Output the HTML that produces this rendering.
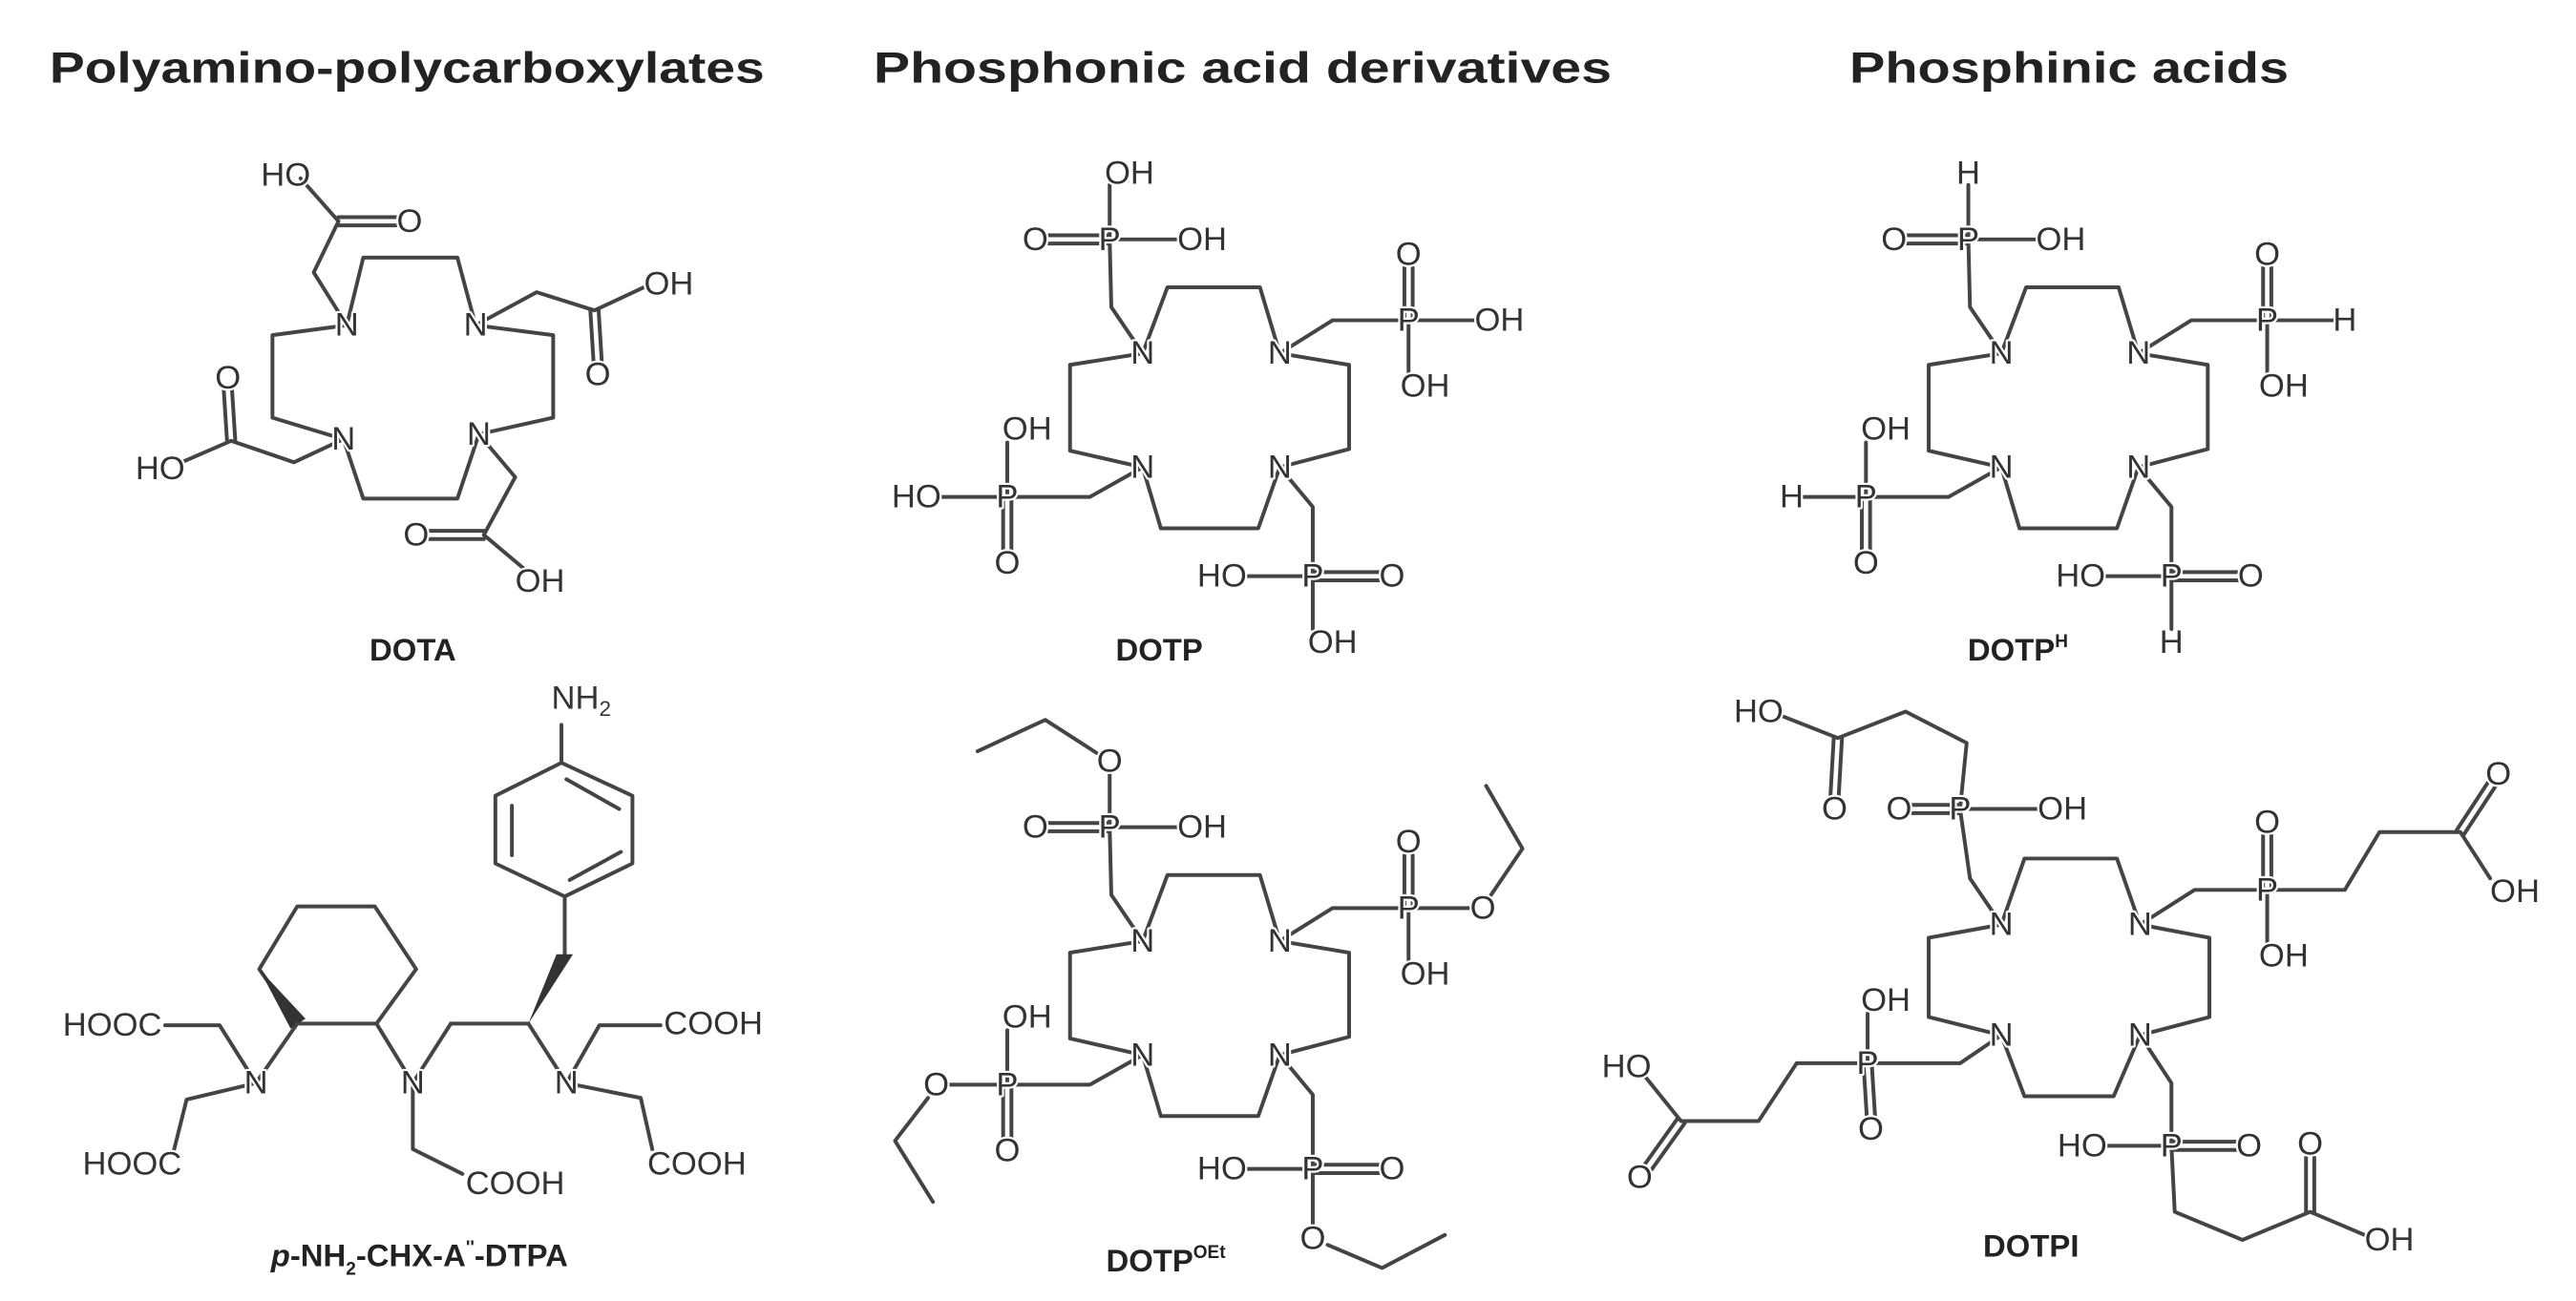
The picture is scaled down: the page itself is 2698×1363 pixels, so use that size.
<!DOCTYPE html>
<html><head><meta charset="utf-8"><style>
html,body{margin:0;padding:0;background:#fff;}
svg{display:block;}
text{font-family:"Liberation Sans",Arial,sans-serif;}
.a{font-size:20px;fill:#333;text-anchor:middle;dominant-baseline:central;stroke:#fff;stroke-width:2.5px;paint-order:stroke;stroke-linejoin:round;}
.l{font-size:19px;font-weight:bold;fill:#222;text-anchor:middle;}
.t{font-size:26px;font-weight:bold;fill:#222;}
path,line{fill:none;stroke:#444;stroke-width:2.3;stroke-linejoin:round;stroke-linecap:round;}
</style></head><body>
<svg width="2698" height="1363" viewBox="0 0 1560 788" preserveAspectRatio="none" xmlns="http://www.w3.org/2000/svg">
<rect width="1560" height="788" fill="#fff"/>
<!-- Titles -->
<text class="t" x="30" y="50" textLength="433" lengthAdjust="spacingAndGlyphs">Polyamino-polycarboxylates</text>
<text class="t" x="529" y="50" textLength="447" lengthAdjust="spacingAndGlyphs">Phosphonic acid derivatives</text>
<text class="t" x="1120" y="50" textLength="266" lengthAdjust="spacingAndGlyphs">Phosphinic acids</text>

<!-- DOTA -->
<g>
<path d="M210,197 L220,156 L277,156 L288,197 L335,203 L335,253 L290,263 L277,302 L220,302 L208,266 L165,253 L165,203 Z"/>
<path d="M210,197 L190,165 L205,134 L182,108"/>
<path d="M205,131.5 L240,131.5 M205,136.5 L240,136.5"/>
<path d="M288,197 L325,177 L360,188 L390,174"/>
<path d="M357.5,188 L359.5,220 M362.5,188 L364.5,220"/>
<path d="M208,266 L178,280 L140,267 L110,280"/>
<path d="M137.5,267 L135.5,236 M142.5,267 L140.5,236"/>
<path d="M290,263 L312,289 L293,324 L318,345"/>
<path d="M293,321.5 L260,321.5 M293,326.5 L260,326.5"/>
<text class="a" x="173" y="106">HO</text>
<text class="a" x="248" y="134">O</text>
<text class="a" x="405" y="172">OH</text>
<text class="a" x="362" y="227">O</text>
<text class="a" x="138" y="229">O</text>
<text class="a" x="97" y="284">HO</text>
<text class="a" x="252" y="324">O</text>
<text class="a" x="327" y="352">OH</text>
<text class="a" x="210" y="197">N</text>
<text class="a" x="288" y="197">N</text>
<text class="a" x="208" y="266">N</text>
<text class="a" x="290" y="263">N</text>
<text class="l" x="250" y="400">DOTA</text>
</g>

<!-- DOTP -->
<g>
<path d="M692,214 L707,174 L763,174 L775,214 L817,221 L817,272 L775,283 L762,320 L703,320 L692,283 L648,273 L648,221 Z"/>
<path d="M692,214 L673,186 L672,145 M672,145 L672,112 M672,145 L715,145"/>
<path d="M672,142.5 L635,142.5 M672,147.5 L635,147.5"/>
<path d="M775,214 L807,194 L853,194 L895,194 M853,194 L853,226"/>
<path d="M850.5,194 L850.5,162 M855.5,194 L855.5,162"/>
<path d="M692,283 L660,301 L610,301 L568,301 M610,301 L610,268"/>
<path d="M607.5,301 L607.5,333 M612.5,301 L612.5,333"/>
<path d="M775,283 L795,307 L795,349 L753,349 M795,349 L795,381"/>
<path d="M795,346.5 L835,346.5 M795,351.5 L835,351.5"/>
<text class="a" x="684" y="105">OH</text>
<text class="a" x="627" y="145">O</text>
<text class="a" x="672" y="145">P</text>
<text class="a" x="728" y="145">OH</text>
<text class="a" x="853" y="154">O</text>
<text class="a" x="853" y="194">P</text>
<text class="a" x="908" y="194">OH</text>
<text class="a" x="863" y="234">OH</text>
<text class="a" x="622" y="260">OH</text>
<text class="a" x="555" y="301">HO</text>
<text class="a" x="610" y="301">P</text>
<text class="a" x="610" y="341">O</text>
<text class="a" x="740" y="349">HO</text>
<text class="a" x="795" y="349">P</text>
<text class="a" x="843" y="349">O</text>
<text class="a" x="807" y="389">OH</text>
<text class="a" x="692" y="214">N</text>
<text class="a" x="775" y="214">N</text>
<text class="a" x="692" y="283">N</text>
<text class="a" x="775" y="283">N</text>
<text class="l" x="702" y="400">DOTP</text>
</g>

<!-- DOTP^H -->
<g transform="translate(520,0)">
<path d="M692,214 L707,174 L763,174 L775,214 L817,221 L817,272 L775,283 L762,320 L703,320 L692,283 L648,273 L648,221 Z"/>
<path d="M692,214 L673,186 L672,145 M672,145 L672,112 M672,145 L715,145"/>
<path d="M672,142.5 L635,142.5 M672,147.5 L635,147.5"/>
<path d="M775,214 L807,194 L853,194 L893,194 M853,194 L853,226"/>
<path d="M850.5,194 L850.5,162 M855.5,194 L855.5,162"/>
<path d="M692,283 L660,301 L610,301 L572,301 M610,301 L610,268"/>
<path d="M607.5,301 L607.5,333 M612.5,301 L612.5,333"/>
<path d="M775,283 L795,307 L795,349 L753,349 M795,349 L795,381"/>
<path d="M795,346.5 L835,346.5 M795,351.5 L835,351.5"/>
<text class="a" x="672" y="105">H</text>
<text class="a" x="627" y="145">O</text>
<text class="a" x="672" y="145">P</text>
<text class="a" x="728" y="145">OH</text>
<text class="a" x="853" y="154">O</text>
<text class="a" x="853" y="194">P</text>
<text class="a" x="900" y="194">H</text>
<text class="a" x="863" y="234">OH</text>
<text class="a" x="622" y="260">OH</text>
<text class="a" x="565" y="301">H</text>
<text class="a" x="610" y="301">P</text>
<text class="a" x="610" y="341">O</text>
<text class="a" x="740" y="349">HO</text>
<text class="a" x="795" y="349">P</text>
<text class="a" x="843" y="349">O</text>
<text class="a" x="795" y="389">H</text>
<text class="a" x="692" y="214">N</text>
<text class="a" x="775" y="214">N</text>
<text class="a" x="692" y="283">N</text>
<text class="a" x="775" y="283">N</text>
<text class="l" x="702" y="400">DOTP<tspan font-size="11" dy="-8">H</tspan></text>
</g>

<!-- DOTP^OEt -->
<g transform="translate(0,356)">
<path d="M692,214 L707,174 L763,174 L775,214 L817,221 L817,272 L775,283 L762,320 L703,320 L692,283 L648,273 L648,221 Z"/>
<path d="M692,214 L673,186 L672,145 M672,145 L672,112 M672,145 L715,145"/>
<path d="M672,142.5 L635,142.5 M672,147.5 L635,147.5"/>
<path d="M664,100 L633,80 L592,99"/>
<path d="M775,214 L807,194 L853,194 L890,194 M853,194 L853,226"/>
<path d="M850.5,194 L850.5,162 M855.5,194 L855.5,162"/>
<path d="M903,186 L922,158 L900,120"/>
<path d="M692,283 L660,301 L610,301 L575,301 M610,301 L610,268"/>
<path d="M607.5,301 L607.5,333 M612.5,301 L612.5,333"/>
<path d="M562,309 L542,335 L565,372"/>
<path d="M775,283 L795,307 L795,352 L753,352 M795,352 L795,386"/>
<path d="M795,349.5 L835,349.5 M795,354.5 L835,354.5"/>
<path d="M804,398 L837,412 L875,392"/>
<text class="a" x="672" y="105">O</text>
<text class="a" x="627" y="145">O</text>
<text class="a" x="672" y="145">P</text>
<text class="a" x="728" y="145">OH</text>
<text class="a" x="853" y="154">O</text>
<text class="a" x="853" y="194">P</text>
<text class="a" x="898" y="194">O</text>
<text class="a" x="863" y="234">OH</text>
<text class="a" x="622" y="260">OH</text>
<text class="a" x="567" y="301">O</text>
<text class="a" x="610" y="301">P</text>
<text class="a" x="610" y="341">O</text>
<text class="a" x="740" y="352">HO</text>
<text class="a" x="795" y="352">P</text>
<text class="a" x="843" y="352">O</text>
<text class="a" x="795" y="394">O</text>
<text class="a" x="692" y="214">N</text>
<text class="a" x="775" y="214">N</text>
<text class="a" x="692" y="283">N</text>
<text class="a" x="775" y="283">N</text>
<text class="l" x="706" y="414">DOTP<tspan font-size="11" dy="-8">OEt</tspan></text>
</g>

<!-- DOTPI -->
<g>
<path d="M1212,560 L1226,520 L1282,520 L1296,560 L1338,568 L1338,616 L1296,627 L1280,664 L1226,664 L1212,627 L1168,616 L1168,568 Z"/>
<path d="M1212,560 L1193,532 L1187,490 L1236,490 M1187,490 L1191,450 L1154,431 L1113,447 L1080,434"/>
<path d="M1187,487.5 L1158,487.5 M1187,492.5 L1158,492.5"/>
<path d="M1110.5,447 L1108.5,482 M1115.5,447 L1113.5,482"/>
<path d="M1296,560 L1329,539 L1373,539 L1373,571 M1373,539 L1420,539 L1441,504 L1490,504 L1508,532"/>
<path d="M1370.5,539 L1370.5,506 M1375.5,539 L1375.5,506"/>
<path d="M1487.8,502.7 L1506.8,473.7 M1492.2,505.3 L1511.2,476.3"/>
<path d="M1212,627 L1187,644 L1131,644 L1131,614 M1131,644 L1088,644 L1065,679 L1018,679 L997,653"/>
<path d="M1128.5,644 L1130.5,676 M1133.5,644 L1135.5,676"/>
<path d="M1015.8,677.6 L995.8,705.6 M1020.2,680.4 L1000.2,708.4"/>
<path d="M1296,627 L1315,656 L1315,694 L1274,694 M1315,694 L1317,734 L1358,751 L1399,734 L1432,748"/>
<path d="M1315,691.5 L1354,691.5 M1315,696.5 L1354,696.5"/>
<path d="M1396.5,734 L1396.5,701 M1401.5,734 L1401.5,701"/>
<text class="a" x="1065" y="431">HO</text>
<text class="a" x="1111" y="490">O</text>
<text class="a" x="1150" y="490">O</text>
<text class="a" x="1187" y="490">P</text>
<text class="a" x="1249" y="490">OH</text>
<text class="a" x="1373" y="498">O</text>
<text class="a" x="1373" y="539">P</text>
<text class="a" x="1383" y="579">OH</text>
<text class="a" x="1513" y="469">O</text>
<text class="a" x="1523" y="540">OH</text>
<text class="a" x="1142" y="606">OH</text>
<text class="a" x="1131" y="644">P</text>
<text class="a" x="1133" y="684">O</text>
<text class="a" x="985" y="646">HO</text>
<text class="a" x="993" y="713">O</text>
<text class="a" x="1261" y="694">HO</text>
<text class="a" x="1315" y="694">P</text>
<text class="a" x="1362" y="694">O</text>
<text class="a" x="1399" y="693">O</text>
<text class="a" x="1447" y="751">OH</text>
<text class="a" x="1212" y="560">N</text>
<text class="a" x="1296" y="560">N</text>
<text class="a" x="1212" y="627">N</text>
<text class="a" x="1296" y="627">N</text>
<text class="l" x="1230" y="761">DOTPI</text>
</g>

<!-- p-NH2-CHX-A''-DTPA -->
<g>
<path d="M340,439 L340,462"/>
<path d="M340,462 L383,482 L383,523 L342,543 L300,523 L300,482 Z"/>
<path d="M310,488 L310,518 M343,472 L375,490 M345,533 L376,516"/>
<path d="M342,543 L342,578"/>
<polygon points="320,620 337,578 347,578" fill="#333"/>
<path d="M180,549 L227,549 L252,587 L228,620 L180,620 L157,587 Z"/>
<polygon points="157,587 176,623 185,617" fill="#333"/>
<path d="M273,620 L320,620"/>
<path d="M180,620 L155,656 M228,620 L250,656 M273,620 L250,656 M320,620 L343,656"/>
<path d="M155,656 L133,621 L100,621"/>
<path d="M155,656 L113,666 L105,698"/>
<path d="M250,656 L250,696 L280,711"/>
<path d="M343,656 L363,621 L400,621"/>
<path d="M343,656 L388,665 L395,696"/>
<text class="a" x="352" y="423">NH<tspan font-size="13" dy="6">2</tspan></text>
<text class="a" x="155" y="656">N</text>
<text class="a" x="250" y="656">N</text>
<text class="a" x="343" y="656">N</text>
<text class="a" x="98" y="621" style="text-anchor:end">HOOC</text>
<text class="a" x="110" y="705" style="text-anchor:end">HOOC</text>
<text class="a" x="282" y="717" style="text-anchor:start">COOH</text>
<text class="a" x="402" y="620" style="text-anchor:start">COOH</text>
<text class="a" x="392" y="705" style="text-anchor:start">COOH</text>
<text class="l" x="254" y="767"><tspan font-style="italic">p</tspan>-NH<tspan font-size="11" dy="5">2</tspan><tspan dy="-5">-CHX-A</tspan><tspan font-size="11" dy="-8">''</tspan><tspan dy="8">-DTPA</tspan></text>
</g>
</svg>
</body></html>
